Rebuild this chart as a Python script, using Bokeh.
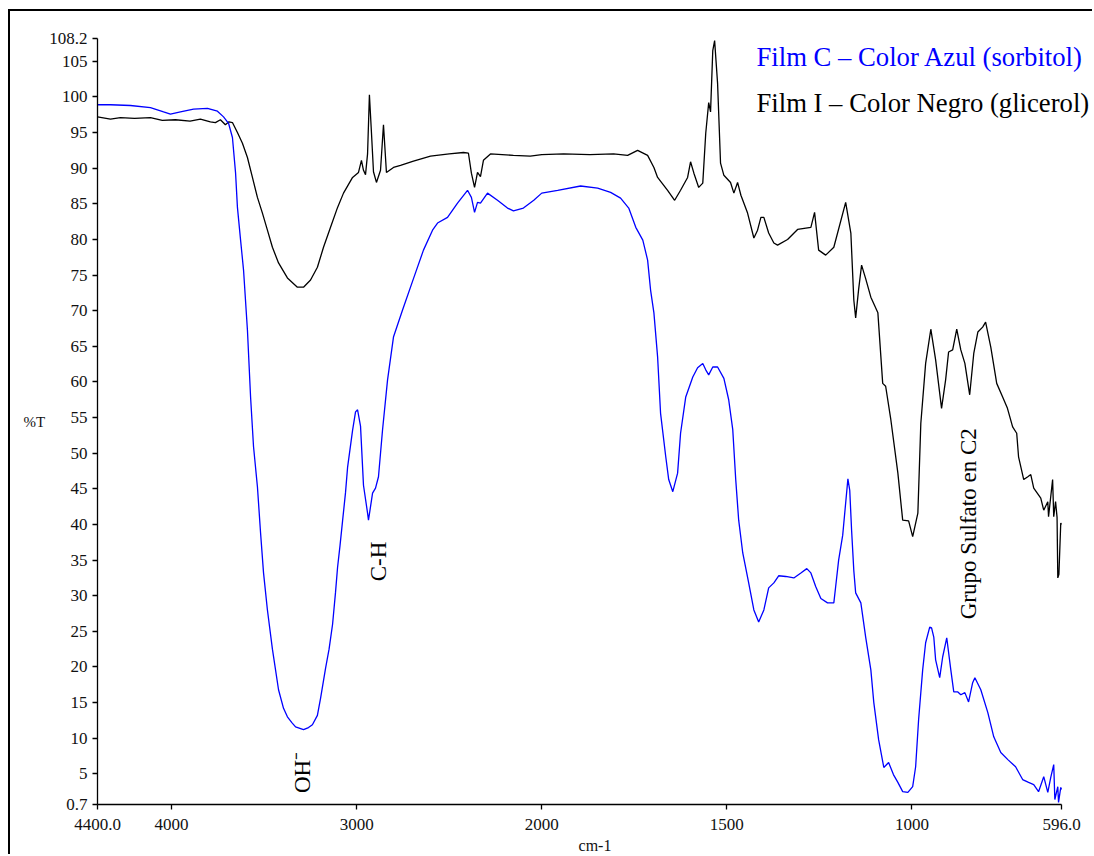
import numpy as np
from bokeh.plotting import figure
from bokeh.models import Range1d, FixedTicker, Label, CustomJSTickFormatter
from bokeh.core.properties import value
from bokeh.embed import file_html
from bokeh.resources import INLINE

# ---------------- data (wavenumber cm-1, %T) ----------------
black_wn = [4400, 4330, 4276, 4200, 4114, 4050, 3979, 3900, 3844, 3790,
            3763, 3736, 3709, 3690, 3671, 3644, 3617, 3590, 3563, 3536,
            3509, 3482, 3455, 3422, 3374, 3320, 3287, 3249, 3212, 3179,
            3141, 3103, 3071, 3022, 2990, 2974, 2963, 2952, 2941, 2931,
            2920, 2909, 2893, 2871, 2855, 2839, 2801, 2763, 2693, 2601,
            2500, 2423, 2396, 2380, 2363, 2353, 2347, 2331, 2315, 2277,
            2153, 2062, 2000, 1941, 1870, 1806, 1768, 1741, 1714, 1697,
            1687, 1660, 1641, 1625, 1606, 1598, 1589, 1576, 1565, 1557,
            1549, 1544, 1538, 1533, 1525, 1517, 1508, 1490, 1481, 1471,
            1462, 1444, 1427, 1417, 1408, 1400, 1387, 1373, 1363, 1336,
            1309, 1273, 1263, 1252, 1233, 1211, 1179, 1165, 1157, 1152,
            1144, 1136, 1125, 1111, 1092, 1079, 1071, 1057, 1038, 1025,
            1009, 998, 984, 976, 963, 949, 936, 920, 909, 901,
            890, 879, 868, 857, 844, 833, 822, 809, 801, 787,
            771, 755, 742, 728, 717, 712, 698, 687, 679, 671,
            652, 644, 633, 631, 620, 617, 612, 608, 606, 603,
            598, 596]
black_t = [97.2, 96.9, 97.1, 97.0, 97.1, 96.7, 96.8, 96.6, 96.9, 96.5,
           96.4, 96.8, 96.1, 96.5, 96.4, 95.0, 93.5, 91.5, 88.7, 85.9,
           83.7, 81.3, 78.9, 76.7, 74.6, 73.3, 73.3, 74.3, 76.1, 78.9,
           81.7, 84.5, 86.5, 88.7, 89.4, 91.1, 89.7, 89.1, 92.0, 100.3,
           95.0, 89.5, 88.0, 89.7, 96.1, 89.4, 90.1, 90.4, 91.0, 91.7,
           92.0, 92.2, 92.1, 89.3, 87.3, 88.6, 89.4, 88.8, 91.1, 92.0,
           91.8, 91.7, 91.9, 92.0, 91.9, 92.0, 91.8, 92.5, 91.8, 90.1,
           88.7, 86.9, 85.5, 86.9, 88.7, 90.9, 89.3, 87.3, 87.9, 94.9,
           99.2, 97.9, 106.5, 107.9, 101.9, 90.7, 89.0, 88.0, 86.5, 88.0,
           86.2, 83.7, 80.2, 81.3, 83.1, 83.1, 80.9, 79.5, 79.2, 80.0,
           81.4, 81.7, 83.8, 78.5, 77.8, 78.9, 85.2, 80.9, 71.5, 69.0,
           73.0, 76.4, 74.5, 71.9, 69.7, 59.8, 59.4, 54.7, 47.2, 40.6,
           40.5, 38.3, 41.6, 54.2, 62.6, 67.4, 63.1, 56.3, 60.3, 64.2,
           64.5, 67.4, 64.5, 62.6, 58.2, 64.0, 67.0, 67.7, 68.4, 64.9,
           59.8, 57.9, 56.3, 53.7, 52.8, 49.5, 46.3, 46.7, 47.0, 45.1,
           43.7, 42.0, 43.2, 41.1, 46.3, 41.1, 43.2, 41.0, 32.5, 33.0,
           40.2, 40.0]

blue_wn = [4400, 4330, 4222, 4114, 4043, 4006, 3952, 3881, 3806, 3752,
           3719, 3692, 3671, 3654, 3644, 3627, 3611, 3590, 3573, 3557,
           3536, 3519, 3503, 3482, 3455, 3422, 3395, 3374, 3350, 3330,
           3287, 3260, 3239, 3212, 3195, 3168, 3149, 3130, 3114, 3103,
           3090, 3076, 3060, 3049, 3022, 3006, 2995, 2979, 2963, 2941,
           2936, 2914, 2898, 2882, 2860, 2833, 2801, 2752, 2693, 2639,
           2590, 2563, 2509, 2455, 2401, 2380, 2363, 2347, 2331, 2293,
           2239, 2185, 2153, 2099, 2043, 2000, 1957, 1895, 1849, 1814,
           1787, 1765, 1746, 1727, 1714, 1706, 1697, 1687, 1679, 1665,
           1657, 1646, 1633, 1625, 1611, 1592, 1579, 1565, 1557, 1549,
           1538, 1525, 1508, 1495, 1484, 1476, 1468, 1457, 1441, 1427,
           1414, 1400, 1387, 1373, 1360, 1341, 1319, 1300, 1284, 1273,
           1260, 1246, 1228, 1211, 1206, 1198, 1187, 1184, 1173, 1168,
           1163, 1157, 1152, 1138, 1125, 1111, 1103, 1090, 1076, 1063,
           1050, 1038, 1025, 1011, 998, 990, 982, 971, 963, 952,
           947, 941, 936, 925, 917, 906, 895, 887, 876, 868,
           857, 847, 836, 830, 814, 795, 779, 760, 741, 720,
           701, 685, 671, 658, 644, 633, 625, 617, 614, 606,
           604, 598, 596]
blue_t = [98.9, 98.9, 98.8, 98.5, 97.9, 97.6, 97.9, 98.3, 98.4, 98.0,
          97.2, 96.3, 94.3, 89.3, 84.5, 79.9, 75.7, 67.3, 57.9, 50.9,
          45.3, 38.8, 33.2, 28.0, 22.5, 16.8, 14.2, 13.0, 12.2, 11.6,
          11.2, 11.5, 11.9, 13.2, 15.6, 19.8, 22.5, 26.0, 30.5, 34.0,
          37.0, 40.5, 44.5, 48.0, 53.2, 55.8, 56.1, 53.8, 45.5, 41.6,
          40.6, 44.4, 45.1, 46.7, 53.3, 60.3, 66.3, 70.1, 74.5, 78.5,
          81.3, 82.3, 83.1, 85.1, 86.9, 85.9, 83.8, 85.2, 85.1, 86.5,
          85.5, 84.4, 84.0, 84.4, 85.5, 86.5, 86.9, 87.5, 87.2, 86.6,
          85.8, 84.4, 81.7, 79.9, 77.1, 72.9, 69.7, 63.5, 55.6, 49.5,
          46.3, 44.6, 47.2, 52.8, 57.9, 60.7, 62.0, 62.6, 61.7, 61.0,
          62.1, 62.1, 60.5, 57.5, 53.3, 46.3, 40.6, 36.0, 31.8, 28.0,
          26.3, 28.0, 31.1, 31.8, 32.8, 32.7, 32.5, 33.2, 33.8, 33.2,
          31.3, 29.6, 29.0, 29.0, 31.3, 35.0, 38.5, 40.2, 46.4, 44.8,
          39.2, 33.5, 30.4, 29.0, 24.2, 19.6, 15.0, 9.8, 5.9, 6.6,
          4.9, 3.8, 2.5, 2.4, 3.2, 6.0, 12.6, 19.6, 23.4, 25.6,
          25.5, 24.2, 21.0, 18.5, 21.4, 24.1, 19.6, 16.5, 16.5, 16.1,
          16.4, 15.1, 17.8, 18.5, 16.8, 13.6, 10.2, 8.0, 7.0, 6.0,
          4.2, 3.8, 3.5, 2.5, 4.6, 2.4, 4.5, 6.3, 1.4, 3.2,
          1.0, 3.1, 2.8]

x_ticks = [4400, 4000, 3000, 2000, 1500, 1000, 596]
x_tick_labels = ["4400.0", "4000", "3000", "2000", "1500", "1000", "596.0"]
y_ticks = [0.7, 5, 10, 15, 20, 25, 30, 35, 40, 45, 50, 55, 60, 65, 70, 75,
           80, 85, 90, 95, 100, 105, 108.2]

series_names = ["Film C \u2013 Color Azul (sorbitol)",
                "Film I \u2013 Color Negro (glicerol)"]
annot_text = ["OH\u207b", "C-H", "Grupo Sulfato en C2"]
annot_wn = [3293, 2882, 847]
annot_t = [5.2, 34.8, 40.1]

assert len(black_wn) == len(black_t)
assert len(blue_wn) == len(blue_t)


# split-scale axis: 4400-2000 drawn at half the scale of 2000-596
def to_u(wn):
    wn = np.asarray(wn, dtype=float)
    return np.where(wn >= 2000, (4400.0 - wn) / 2.0, 1200.0 + (2000.0 - wn))


FONT = "Liberation Serif"
W, H = 1084, 845
BL, BR, BT, BB = 87, 2, 27, 51
u_max = float(to_u(596))
frame_w = W - BL - BR
x_end = u_max * frame_w / 964.0      # extra room at right for the titles

p = figure(width=W, height=H, output_backend="svg", toolbar_location=None,
           x_range=Range1d(0, x_end), y_range=Range1d(0.7, 108.2),
           min_border_left=BL, min_border_right=BR, min_border_top=BT,
           min_border_bottom=BB)
p.margin = (11, 0, 0, 10)
p.styles = {"box-shadow": "-2px -2px 0px 0px black"}
p.outline_line_color = None
p.xgrid.visible = False
p.ygrid.visible = False

p.line(to_u(black_wn), black_t, line_color="black", line_width=1.3)
p.line(to_u(blue_wn), blue_t, line_color="#0000ff", line_width=1.3)

p.text(x=to_u(annot_wn), y=annot_t, text=annot_text, angle=np.pi / 2,
       text_align="center", text_baseline="middle",
       text_font=value(FONT), text_font_size="23px", text_color="black")

# x axis
p.xaxis.ticker = FixedTicker(ticks=[int(v) for v in to_u(x_ticks)])
p.xaxis.major_label_overrides = {int(u): lab for u, lab in zip(to_u(x_ticks), x_tick_labels)}
p.xaxis.bounds = (0, u_max)
p.xaxis.axis_label = "cm-1"
# y axis
p.yaxis.ticker = FixedTicker(ticks=y_ticks)
p.yaxis.formatter = CustomJSTickFormatter(code="return tick.toString();")
p.yaxis.axis_label = "%T"
p.yaxis.axis_label_orientation = "horizontal"

for ax in (p.xaxis[0], p.yaxis[0]):
    ax.minor_tick_line_color = None
    ax.major_tick_in = 0
    ax.major_tick_out = 5
    ax.major_tick_line_width = 1.3
    ax.axis_line_width = 1.3
    ax.axis_line_color = "black"
    ax.major_tick_line_color = "black"
    ax.major_label_text_font = FONT
    ax.major_label_text_font_size = "17px"
    ax.major_label_text_color = "#111111"
    ax.axis_label_text_font = FONT
    ax.axis_label_text_font_style = "normal"
    ax.axis_label_text_color = "#111111"

p.xaxis.major_label_standoff = 9
p.xaxis.axis_label_text_font_size = "16px"
p.xaxis.axis_label_standoff = 4
p.yaxis.major_label_standoff = 5
p.yaxis.axis_label_text_font_size = "15px"
p.yaxis.axis_label_standoff = 1

# series titles
p.add_layout(Label(x=float(to_u(1420)), y=105.6, text=series_names[0],
                   text_align="left", text_baseline="alphabetic",
                   text_font=FONT, text_font_size="26.7px", text_color="#0000ff"))
p.add_layout(Label(x=float(to_u(1420)), y=99.1, text=series_names[1],
                   text_align="left", text_baseline="alphabetic",
                   text_font=FONT, text_font_size="26.7px", text_color="black"))

open("out.html", "w").write(file_html(p, INLINE))
